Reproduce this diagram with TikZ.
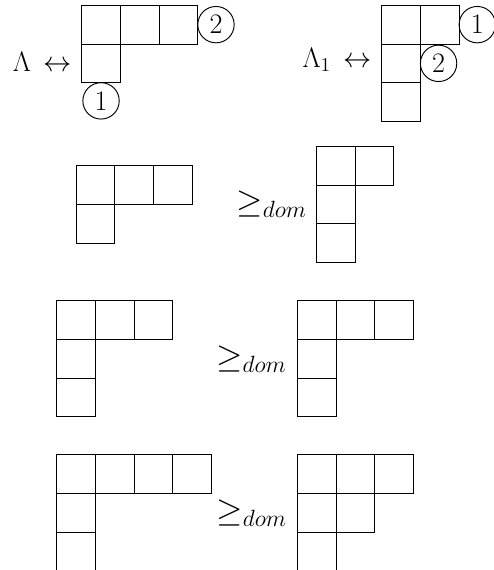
\documentclass[tikz,border=0pt]{standalone}
\usepackage{tikz}
\usetikzlibrary{positioning}
\usepackage{amsmath}
\tikzset{
  cell/.style={rectangle,draw=black,line width=0.7pt,minimum size=1cm,
               inner sep=0pt,outer sep=0pt},
  numc/.style={circle,draw=black,line width=0.7pt,minimum size=0.94cm,
               inner sep=0pt,outer sep=0pt,font=\huge},
  lbl/.style={font=\huge,inner sep=0pt},
  domlbl/.style={font=\fontsize{23}{27}\selectfont,inner sep=0pt,anchor=base east},
}
% young diagram: name, x, y of top-left corner, row lengths
\newcommand{\youngd}[4]{%
  \foreach \len [count=\r] in {#4} {
    \foreach \c in {1,...,\len} {
      \node[cell] (#1-\r-\c) at ({#2+\c-0.5},{#3-\r+0.5}) {};
    }
  }
}
\begin{document}
\begin{tikzpicture}
  \useasboundingbox (0,0) rectangle (12.765,-14.729);

  % top row
  \youngd{A}{2.111}{-0.137}{3,1}
  \youngd{B}{9.863}{-0.137}{2,1,1}
  \node[lbl,anchor=base east] (lam)  at (1.860,-1.860) {$\Lambda\,\leftrightarrow$};
  \node[lbl,anchor=base east] (lam1) at (9.612,-1.749) {$\Lambda_1\,\leftrightarrow$};
  \node[numc,below=0pt of A-2-1] (a1) {1};
  \node[numc,right=0pt of A-1-3] (a2) {2};
  \node[numc,right=0pt of B-1-2] (b1) {1};
  \node[numc,right=0pt of B-2-1] (b2) {2};

  % comparisons
  \youngd{C}{1.964}{-4.282}{3,1}
  \youngd{D}{8.173}{-3.780}{2,1,1}
  \node[domlbl] (dom1) at (7.933,-5.490) {$\geq_{dom}$};

  \youngd{E}{1.465}{-7.770}{3,1,1}
  \youngd{F}{7.682}{-7.770}{3,1,1}
  \node[domlbl] (dom2) at (7.408,-9.500) {$\geq_{dom}$};

  \youngd{G}{1.465}{-11.749}{4,1,1}
  \youngd{H}{7.682}{-11.749}{3,2,1}
  \node[domlbl] (dom3) at (7.416,-13.474) {$\geq_{dom}$};
\end{tikzpicture}
\end{document}
